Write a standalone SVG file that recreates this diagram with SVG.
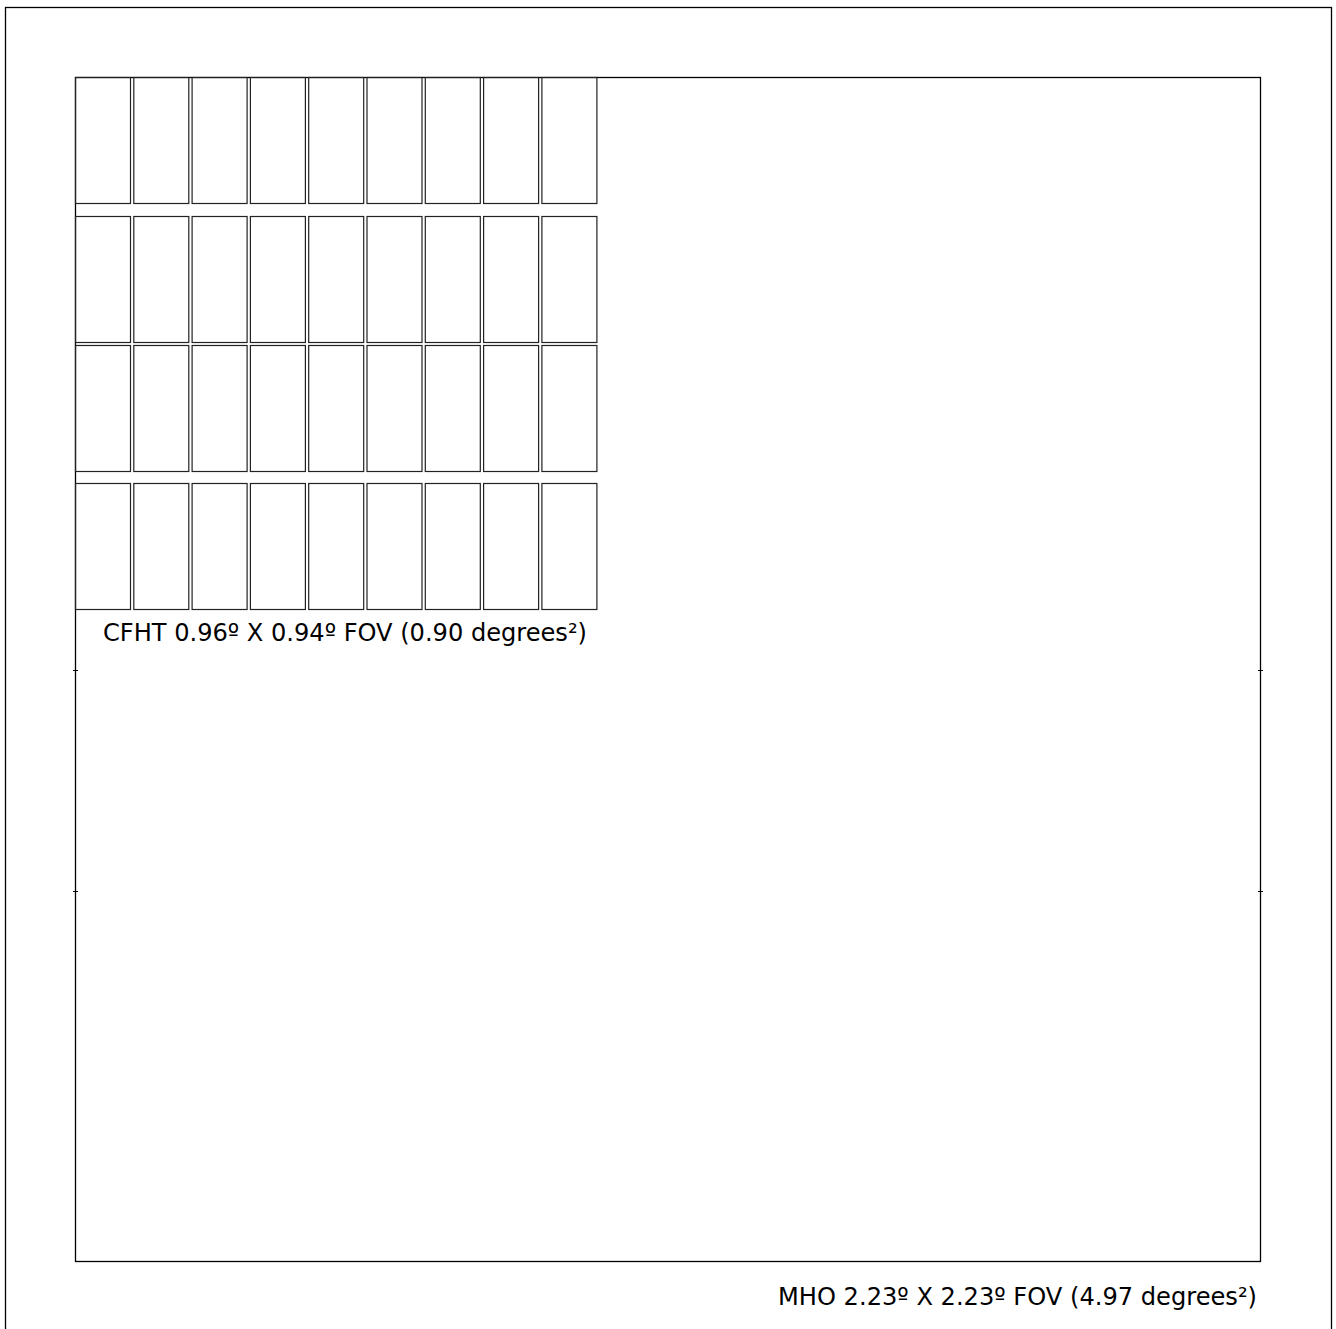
<svg xmlns="http://www.w3.org/2000/svg" width="1336" height="1329" viewBox="0 0 1336 1329">
<style>
.frame{fill:none;stroke:#000;stroke-width:1.3}
.chip{fill:none;stroke:#222;stroke-width:1.2}
.tick{stroke:#000;stroke-width:1}
.lbl{font-family:"DejaVu Sans","Liberation Sans",sans-serif;font-size:25.5px;fill:#000}
</style>
<rect width="1336" height="1329" fill="#fff"/>
<rect class="frame" x="5.5" y="7.5" width="1326" height="1330"/>
<g id="mho">
<rect class="frame" x="75.5" y="77.5" width="1185" height="1184"/>
<line class="tick" x1="73" y1="670.5" x2="78" y2="670.5"/>
<line class="tick" x1="1258" y1="670.5" x2="1263" y2="670.5"/>
<line class="tick" x1="73" y1="891.5" x2="78" y2="891.5"/>
<line class="tick" x1="1258" y1="891.5" x2="1263" y2="891.5"/>
<text class="lbl" x="778" y="1305" textLength="479" lengthAdjust="spacingAndGlyphs">MHO 2.23º X 2.23º FOV (4.97 degrees²)</text>
</g>
<g id="cfht">
<defs>
<g id="row">
<rect class="chip" x="75.5" y="0" width="55" height="126"/>
<rect class="chip" x="133.8" y="0" width="55" height="126"/>
<rect class="chip" x="192.1" y="0" width="55" height="126"/>
<rect class="chip" x="250.4" y="0" width="55" height="126"/>
<rect class="chip" x="308.7" y="0" width="55" height="126"/>
<rect class="chip" x="367" y="0" width="55" height="126"/>
<rect class="chip" x="425.3" y="0" width="55" height="126"/>
<rect class="chip" x="483.6" y="0" width="55" height="126"/>
<rect class="chip" x="541.9" y="0" width="55" height="126"/>
</g>
</defs>
<use href="#row" y="77.5"/>
<use href="#row" y="216.5"/>
<use href="#row" y="345.5"/>
<use href="#row" y="483.5"/>
<text class="lbl" x="103" y="641" textLength="484" lengthAdjust="spacingAndGlyphs">CFHT 0.96º X 0.94º FOV (0.90 degrees²)</text>
</g>
<g id="connectors"/>
</svg>
